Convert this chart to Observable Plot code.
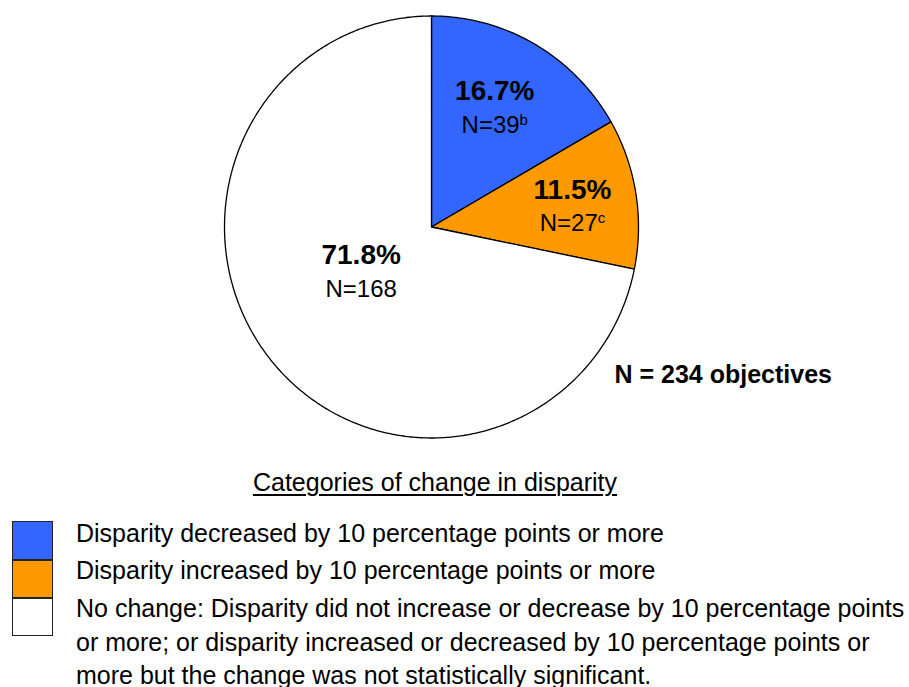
<!DOCTYPE html>
<html>
<head>
<meta charset="utf-8">
<script src="https://cdn.jsdelivr.net/npm/d3@7"></script>
<script src="https://cdn.jsdelivr.net/npm/@observablehq/plot@0.6"></script>
<style>
  html, body { margin: 0; padding: 0; background: #fff; }
  body { font-family: "Liberation Sans", Arial, Helvetica, sans-serif; color: #000; }
  #wrap { position: relative; width: 909px; height: 687px; overflow: hidden; }
  #chart { position: absolute; left: 0; top: 0; }
  .legend-title { position: absolute; left: 0; width: 870px; text-align: center; font-size: 25px; line-height: 33.5px; top: 466px; }
  .legend-title span { text-decoration: underline; text-underline-offset: 3px; text-decoration-thickness: 1.5px; }
  .box { position: absolute; left: 12px; width: 41px; box-sizing: border-box; border: 1.3px solid #222; }
  .item { position: absolute; left: 76px; width: 833px; font-size: 25px; line-height: 33.5px; white-space: pre-line; }
</style>
</head>
<body>
<div id="wrap">
  <div id="chart"></div>
</div>
<script>
// ---- data ----
const categories = [
  "Disparity decreased by 10 percentage points or more",
  "Disparity increased by 10 percentage points or more",
  "No change: Disparity did not increase or decrease by 10 percentage points\nor more; or disparity increased or decreased by 10 percentage points or\nmore but the change was not statistically significant."
];
const percents = [16.7, 11.5, 71.8];
const counts = [39, 27, 168];
const countNotes = ["b", "c", ""];
const colors = ["#3366FF", "#FF9900", "#FFFFFF"];
const legendTitle = "Categories of change in disparity";
const totalLabel = "N = 234 objectives";

// ---- build geometry from the data ----
const rows = categories.map((c, i) => ({cat: c, pct: percents[i], n: counts[i], note: countNotes[i]}));
const arcs = d3.pie().sort(null).value(d => d.pct).startAngle(0).endAngle(2 * Math.PI)(rows);

const pts = [];
for (const a of arcs) {
  const key = a.data.cat;
  pts.push({key, x: 0, y: 0});
  const steps = Math.max(8, Math.ceil((a.endAngle - a.startAngle) / 0.01));
  for (let k = 0; k <= steps; k++) {
    const t = a.startAngle + (a.endAngle - a.startAngle) * k / steps;
    pts.push({key, x: Math.sin(t), y: Math.cos(t)});
  }
  pts.push({key, x: 0, y: 0});
}

// label placement: radial fraction and small nudges (in radius units)
const labelRadius = [0.65, 0.69, 0.40];
const labelNudge = [[-0.02, 0.0], [0.0, -0.014], [-0.03, 0.038]];
const labels = arcs.map((a, i) => {
  const m = (a.startAngle + a.endAngle) / 2;
  return {
    pctText: a.data.pct.toFixed(1) + "%",
    nText: "N=" + a.data.n + (a.data.note ? "^" + a.data.note : ""),
    x: Math.sin(m) * labelRadius[i] + labelNudge[i][0],
    y: Math.cos(m) * labelRadius[i] + labelNudge[i][1]
  };
});

const plot = Plot.plot({
  width: 909,
  height: 460,
  margin: 0,
  x: {domain: [-1, 1], range: [224, 638], axis: null},
  y: {domain: [-1, 1], range: [437.5, 15.5], axis: null},
  color: {domain: categories, range: colors},
  style: {fontFamily: '"Liberation Sans", Arial, sans-serif', background: "#fff", color: "#000"},
  marks: [
    Plot.line(pts, {x: "x", y: "y", z: "key", fill: "key", stroke: "#000", strokeWidth: 1.3, curve: "linear", strokeLinejoin: "round"}),
    Plot.text(labels, {x: "x", y: "y", text: "pctText", dy: -17, fontSize: 28, fontWeight: "bold", fill: "#000"}),
    Plot.text(labels, {x: "x", y: "y", text: "nText", dy: 17, fontSize: 24, fill: "#000"}),
    Plot.text([totalLabel], {x: 0.884, y: -0.702, text: d => d, textAnchor: "start", fontSize: 25, fontWeight: "bold", fill: "#000"})
  ]
});

// superscripts for footnote letters
d3.select(plot).selectAll("text").each(function () {
  const t = this.textContent;
  if (t.includes("^")) {
    const [main, sup] = t.split("^");
    const sel = d3.select(this);
    sel.text(main);
    sel.append("tspan").attr("dy", "-0.55em").attr("font-size", 15).text(sup);
  }
});

document.getElementById("chart").appendChild(plot);

// ---- legend (HTML below the SVG) ----
const wrap = document.getElementById("wrap");
const title = document.createElement("div");
title.className = "legend-title";
const ts = document.createElement("span");
ts.textContent = legendTitle;
title.appendChild(ts);
wrap.appendChild(title);

const boxTops = [521, 559.5, 597.5];
const boxH = [39, 38.5, 38.5];
const textTops = [516.5, 553.5, 592];
categories.forEach((c, i) => {
  const b = document.createElement("div");
  b.className = "box";
  b.style.top = boxTops[i] + "px";
  b.style.height = boxH[i] + "px";
  b.style.background = colors[i];
  wrap.appendChild(b);
  const t = document.createElement("div");
  t.className = "item";
  t.style.top = textTops[i] + "px";
  t.textContent = c;
  wrap.appendChild(t);
});
</script>
</body>
</html>
